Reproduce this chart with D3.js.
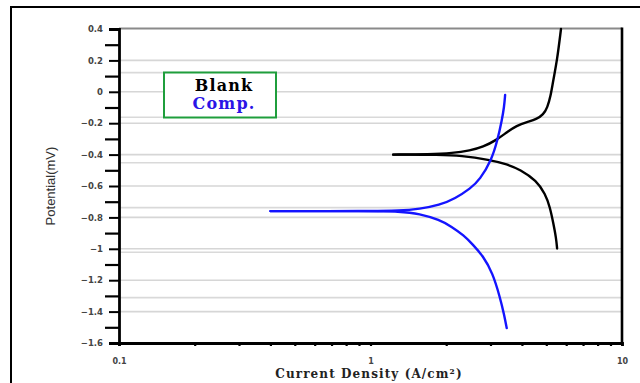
<!DOCTYPE html>
<html>
<head>
<meta charset="utf-8">
<script src="https://cdn.jsdelivr.net/npm/d3@7/dist/d3.min.js"></script>
<style>
  html, body { margin: 0; padding: 0; background: #fff; }
  svg { display: block; }
</style>
</head>
<body>
<svg id="chart" width="640" height="383"></svg>
<script>
// Tafel polarization curves: current density (log axis) vs potential

// Blank: anodic and cathodic branches, [current density, potential]
const blankAnodic = [
  [1.23, -0.400], [1.72, -0.398], [2.12, -0.391], [2.49, -0.374], [2.80, -0.352],
  [3.17, -0.307], [3.48, -0.258], [3.81, -0.215], [4.20, -0.192], [4.57, -0.175],
  [4.87, -0.145], [5.05, -0.100], [5.20, -0.030], [5.33, 0.075], [5.52, 0.200],
  [5.72, 0.400]
];
const blankCathodic = [
  [1.23, -0.400], [1.90, -0.401], [2.28, -0.406], [2.98, -0.434], [3.50, -0.462],
  [3.93, -0.495], [4.57, -0.565], [4.95, -0.650], [5.17, -0.734], [5.33, -0.835],
  [5.47, -0.930], [5.52, -0.998]
];

// Comp.: anodic and cathodic branches
const compAnodic = [
  [0.40, -0.760], [1.00, -0.760], [1.30, -0.758], [1.57, -0.746], [1.88, -0.722],
  [2.17, -0.680], [2.50, -0.615], [2.72, -0.560], [3.03, -0.434], [3.20, -0.307],
  [3.33, -0.180], [3.40, -0.095], [3.43, -0.020]
];
const compCathodic = [
  [0.40, -0.760], [1.00, -0.760], [1.30, -0.762], [1.57, -0.776], [1.88, -0.816],
  [2.10, -0.858], [2.35, -0.915], [2.55, -0.972], [2.80, -1.045], [3.06, -1.154],
  [3.27, -1.307], [3.40, -1.420], [3.48, -1.505]
];

// Axes
const xTickValues = [0.1, 1, 10];
const xMinorTicks = [0.2, 0.3, 0.4, 0.5, 0.6, 0.7, 0.8, 0.9, 2, 3, 4, 5, 6, 7, 8, 9];
const yTickValues = [0.4, 0.2, 0, -0.2, -0.4, -0.6, -0.8, -1, -1.2, -1.4, -1.6];
const yMinorTicks = [0.3, 0.1, -0.1, -0.3, -0.5, -0.7, -0.9, -1.1, -1.3, -1.5];
const yGridMajor = [0.2, 0, -0.2, -0.4, -0.6, -0.8, -1, -1.2, -1.4];
const yGridSecondary = [0.122, -0.162, -0.452, -0.738, -1.022, -1.311];

const legendLabels = ["Blank", "Comp."];
const legendColors = ["#000000", "#2a14e6"];
const seriesColors = { blank: "#000000", comp: "#1414ff" };

const svg = d3.select("#chart");
const plot = { left: 119, right: 622, top: 29, bottom: 343 };

const x = d3.scaleLog().domain([0.1, 10]).range([plot.left, plot.right]);
const y = d3.scaleLinear().domain([-1.6, 0.4]).range([plot.bottom, plot.top]);

// Outer frame (runs off the right and bottom edges)
svg.append("path")
  .attr("d", "M11,400 L11,7 L660,7")
  .attr("fill", "none").attr("stroke", "#000").attr("stroke-width", 2);

// Gridlines
svg.append("g").selectAll("line").data(yGridMajor).join("line")
  .attr("x1", plot.left).attr("x2", plot.right)
  .attr("y1", d => y(d)).attr("y2", d => y(d))
  .attr("stroke", "#d6d6d6").attr("stroke-width", 1.6);
svg.append("g").selectAll("line").data(yGridSecondary).join("line")
  .attr("x1", plot.left).attr("x2", plot.right)
  .attr("y1", d => y(d)).attr("y2", d => y(d))
  .attr("stroke", "#d9d9d9").attr("stroke-width", 1.6);

// Plot frame: top and right
svg.append("line")
  .attr("x1", plot.left).attr("x2", plot.right)
  .attr("y1", plot.top - 0.5).attr("y2", plot.top - 0.5)
  .attr("stroke", "#8a8a8a").attr("stroke-width", 1.8);
svg.append("line")
  .attr("x1", plot.right).attr("x2", plot.right)
  .attr("y1", plot.top - 1.5).attr("y2", plot.bottom)
  .attr("stroke", "#000").attr("stroke-width", 2.6);

// Y axis
const yAxis = d3.axisLeft(y).tickValues(yTickValues).tickSize(10).tickPadding(6)
  .tickFormat(d => d === 0 ? "0" : d3.format("")(+d.toFixed(1)));
const gy = svg.append("g").attr("transform", `translate(${plot.left},0)`).call(yAxis);
gy.select(".domain").attr("stroke-width", 2.8);
gy.selectAll(".tick line").attr("stroke-width", 2);
gy.selectAll(".tick text")
  .attr("font-family", "'DejaVu Sans', Verdana, sans-serif")
  .attr("font-size", 8.5).attr("font-weight", "bold").attr("fill", "#444");
const gyMinor = d3.axisLeft(y).tickValues(yMinorTicks).tickSize(14).tickFormat("");
const gym = svg.append("g").attr("transform", `translate(${plot.left},0)`).call(gyMinor);
gym.select(".domain").remove();
gym.selectAll(".tick line").attr("stroke-width", 2.2);

// X axis
const xAxis = d3.axisBottom(x).tickValues(xTickValues).tickSize(3).tickPadding(12)
  .tickFormat(d3.format(""));
const gx = svg.append("g").attr("transform", `translate(0,${plot.bottom})`).call(xAxis);
gx.select(".domain").attr("stroke-width", 2.8);
gx.selectAll(".tick line").attr("stroke-width", 2.2);
gx.selectAll(".tick text")
  .attr("font-family", "'DejaVu Sans', Verdana, sans-serif")
  .attr("font-size", 8).attr("font-weight", "bold").attr("fill", "#444");
const gxMinor = d3.axisBottom(x).tickValues(xMinorTicks).tickSize(3).tickFormat("");
const gxm = svg.append("g").attr("transform", `translate(0,${plot.bottom})`).call(gxMinor);
gxm.select(".domain").remove();
gxm.selectAll(".tick line").attr("stroke-width", 2.2);

// Axis titles
svg.append("text")
  .attr("x", 369).attr("y", 378).attr("text-anchor", "middle")
  .attr("font-family", "'DejaVu Serif', Cambria, serif")
  .attr("font-size", 12).attr("font-weight", "bold").attr("fill", "#222")
  .attr("letter-spacing", 1.1)
  .text("Current Density (A/cm²)");
svg.append("text")
  .attr("transform", "translate(55,186) rotate(-90)")
  .attr("text-anchor", "middle")
  .attr("font-family", "'Liberation Sans Narrow', 'Liberation Sans', Arial, sans-serif")
  .attr("font-size", 13).attr("fill", "#333")
  .text("Potential(mV)");

// Curves
const line = d3.line()
  .x(d => x(d[0])).y(d => y(d[1]))
  .curve(d3.curveBasis);

const curves = [
  { data: blankAnodic, color: seriesColors.blank },
  { data: blankCathodic, color: seriesColors.blank },
  { data: compAnodic, color: seriesColors.comp },
  { data: compCathodic, color: seriesColors.comp }
];
svg.append("g").selectAll("path").data(curves).join("path")
  .attr("d", d => line(d.data))
  .attr("fill", "none")
  .attr("stroke", d => d.color)
  .attr("stroke-width", 2.4)
  .attr("stroke-linecap", "round");

// Legend
const legend = svg.append("g");
legend.append("rect")
  .attr("x", 164).attr("y", 72.5).attr("width", 112).attr("height", 45)
  .attr("fill", "#fff").attr("stroke", "#1f9e3c").attr("stroke-width", 2);
legend.selectAll("text").data(legendLabels).join("text")
  .attr("x", 224).attr("y", (d, i) => 91 + i * 18)
  .attr("text-anchor", "middle")
  .attr("font-family", "'DejaVu Serif', Cambria, serif")
  .attr("font-size", 16).attr("font-weight", "bold")
  .attr("letter-spacing", 1.2)
  .attr("fill", (d, i) => legendColors[i])
  .text(d => d);
</script>
</body>
</html>
